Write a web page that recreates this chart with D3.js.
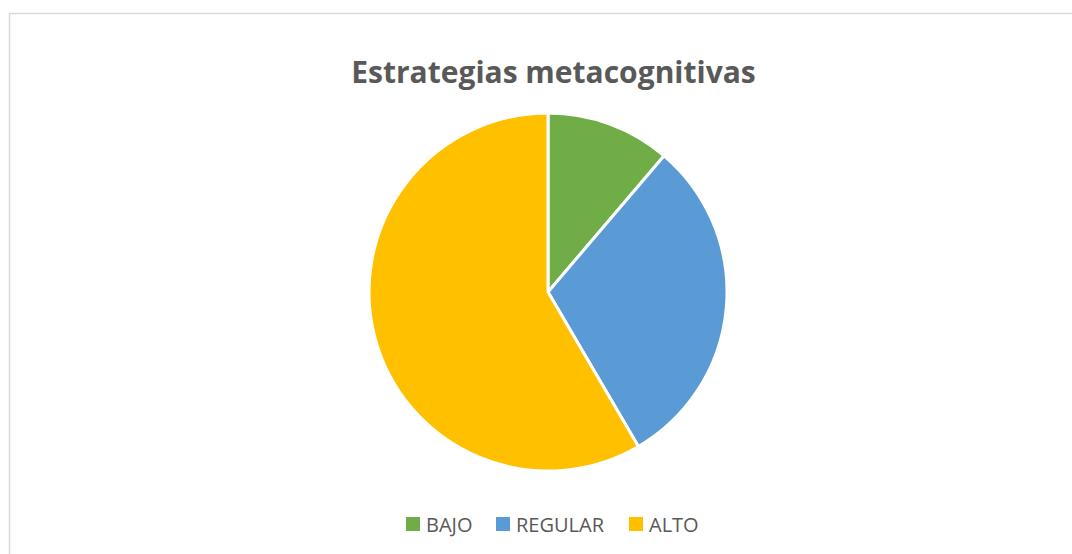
<!DOCTYPE html>
<html>
<head>
<meta charset="utf-8">
<script src="https://cdn.jsdelivr.net/npm/d3@7"></script>
<style>
  body { margin: 0; background: #fff; }
  svg { display: block; }
</style>
</head>
<body>
<svg id="chart" width="1072" height="554"></svg>
<script>
// data
const categories = ["BAJO", "REGULAR", "ALTO"];
const values = [10, 27, 52];
const colors = ["#70ad47", "#5b9bd5", "#ffc000"];

const width = 1072, height = 554;
const cx = 548, cy = 292, radius = 179;

const svg = d3.select("#chart");

// chart area border
svg.append("rect")
    .attr("x", 9.5).attr("y", 13.5)
    .attr("width", 1100).attr("height", 600)
    .attr("fill", "#fff")
    .attr("stroke", "#d9d9d9")
    .attr("stroke-width", 1.5);

svg.append("text")
    .attr("x", 553.5).attr("y", 83)
    .attr("text-anchor", "middle")
    .attr("font-family", "'Open Sans', sans-serif")
    .attr("font-weight", "bold")
    .attr("font-size", "30px")
    .attr("fill", "#595959")
    .text("Estrategias metacognitivas");

const color = d3.scaleOrdinal().domain(categories).range(colors);

const pie = d3.pie().sort(null).value(d => d.value);
const arc = d3.arc().innerRadius(0).outerRadius(radius);

const data = categories.map((c, i) => ({ name: c, value: values[i] }));

svg.append("g")
    .attr("transform", "translate(" + cx + "," + cy + ")")
    .selectAll("path")
    .data(pie(data))
    .join("path")
    .attr("d", arc)
    .attr("fill", d => color(d.data.name))
    .attr("stroke", "#fff")
    .attr("stroke-width", 3)
    .attr("stroke-linejoin", "round");

// legend
const legendX = [406, 496, 629];
const legend = svg.append("g");
const items = legend.selectAll("g")
    .data(data)
    .join("g")
    .attr("transform", (d, i) => "translate(" + legendX[i] + ",517)");
items.append("rect")
    .attr("width", 14).attr("height", 14)
    .attr("fill", d => color(d.name));
items.append("text")
    .attr("x", 20).attr("y", 15)
    .attr("font-family", "'Open Sans', sans-serif")
    .attr("font-size", "20px")
    .attr("fill", "#595959")
    .text(d => d.name);
</script>
</body>
</html>
